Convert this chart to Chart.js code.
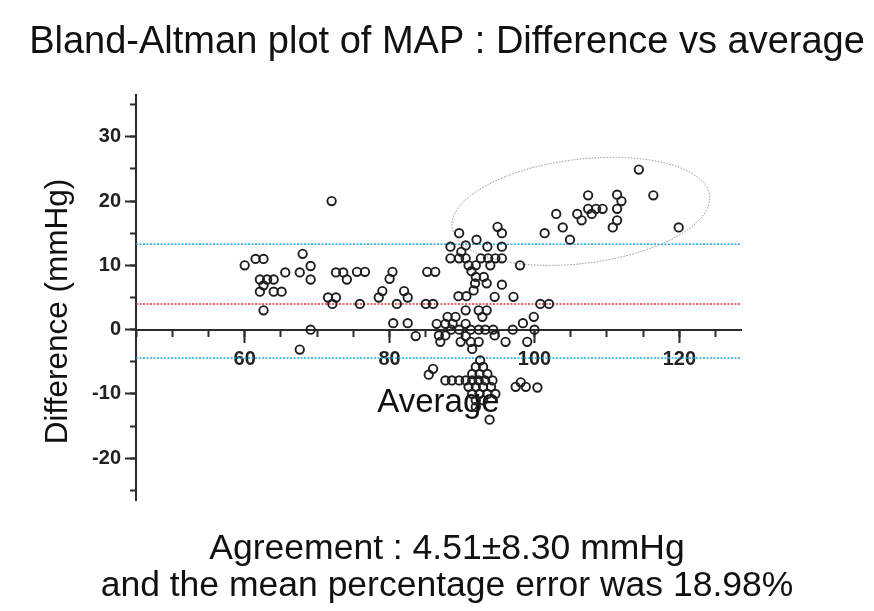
<!DOCTYPE html>
<html>
<head>
<meta charset="utf-8">
<title>Bland-Altman plot of MAP</title>
<script src="https://cdn.jsdelivr.net/npm/chart.js@4.4.1/dist/chart.umd.min.js"></script>
<style>
  html, body { margin: 0; padding: 0; background: #fff; }
  canvas { display: block; }
</style>
</head>
<body>
<canvas id="baChart" width="874" height="611"></canvas>
<script>
// Bland-Altman : moyenne (x) vs différence (y), en mmHg
const averages = [
  60.0, 61.5, 62.6, 62.1, 63.1, 64.0, 62.6, 62.1, 64.0, 65.1, 62.6, 65.6, 67.6, 68.0, 69.1,
  69.1, 67.6, 69.1, 72.0, 72.6, 73.6, 74.1, 71.5, 72.6, 72.1, 75.5, 76.6, 75.9, 80.4, 80.0,
  79.0, 78.5, 82.0, 82.5, 81.0, 80.5, 82.5, 83.6, 85.2, 86.3, 85.0, 86.0, 86.0, 85.4,
  89.6, 94.9, 95.5, 92.0, 88.4, 90.5, 93.5, 95.5, 89.9, 88.4, 89.6, 90.5, 92.6, 93.6, 94.6,
  95.5, 90.9, 91.9, 93.9, 91.3, 91.9, 93.0, 91.8, 93.4, 95.5, 91.6, 90.6, 89.5, 94.5, 97.1,
  90.5, 92.3, 93.4, 92.8, 88.0, 89.1, 86.5, 87.7, 88.7, 90.5, 88.5, 89.6, 91.2, 92.3, 93.2,
  94.3, 86.8, 87.7, 90.5, 94.5, 87.0, 89.8, 91.2, 92.3, 91.4, 92.5,
  98.0, 97.0, 98.4, 99.9, 100.0, 99.0, 96.0, 100.8, 102.0,
  91.9, 92.9, 91.4, 92.4, 93.5, 87.7, 88.6, 89.6, 90.5, 91.4, 92.3, 93.2, 94.2, 90.9, 91.9,
  92.9, 94.0, 91.4, 92.4, 93.5, 94.6, 91.9, 92.9, 91.9, 93.8, 97.4, 98.1, 98.8, 100.4,
  114.4, 116.4, 119.9, 107.4, 111.4, 112.0, 111.4, 107.4, 108.5, 109.4, 107.9, 105.9, 106.5,
  111.4, 110.8, 103.0, 103.9, 101.4, 104.9
];
const differences = [
  10.0, 11.0, 11.0, 7.8, 7.8, 7.8, 6.9, 5.9, 5.9, 5.9, 3.0, 8.9, 8.9, 11.8, 9.9,
  7.8, -3.1, 0.0, 20.0, 8.9, 8.9, 7.8, 5.0, 5.0, 4.0, 9.0, 9.0, 4.0, 9.0, 7.9,
  6.0, 5.0, 6.0, 5.0, 4.0, 1.0, 1.0, -1.0, 9.0, 9.0, 4.0, 4.0, -6.1, -7.0,
  15.0, 16.0, 15.0, 14.0, 12.9, 13.1, 12.9, 12.9, 12.1, 11.1, 11.1, 11.1, 11.1, 11.1, 11.1,
  11.1, 10.0, 10.0, 10.0, 9.1, 8.2, 8.2, 7.2, 7.2, 7.0, 6.1, 5.2, 5.2, 5.1, 5.1,
  3.0, 3.0, 3.0, 2.0, 2.0, 2.0, 0.9, 0.9, 0.9, 0.9, 0.0, 0.0, 0.0, 0.0, 0.0,
  0.0, -0.9, -0.9, -1.0, -0.9, -1.9, -1.9, -1.9, -1.9, -3.0, -4.8,
  10.0, 0.0, 1.0, 2.0, 0.0, -1.9, -1.9, 4.0, 4.0,
  -5.8, -5.8, -6.9, -6.9, -6.9, -7.9, -7.9, -7.9, -7.9, -7.9, -7.9, -7.9, -7.9, -8.9, -8.9,
  -8.9, -8.9, -10.0, -10.0, -10.0, -10.0, -11.0, -11.0, -12.0, -14.0, -8.9, -8.2, -8.9, -9.0,
  24.9, 20.9, 15.9, 20.9, 21.0, 20.0, 18.8, 18.8, 18.8, 18.8, 18.0, 18.0, 17.0,
  17.0, 15.9, 18.0, 15.9, 15.0, 14.0
];

// lignes de référence (biais et limites d'agrément)
const meanDiff = 4.0;
const upperLimit = 13.3;
const lowerLimit = -4.4;

// étendue des axes
const xRange = [45, 128.5];
const yRange = [-26.5, 36.5];

// ellipse autour du groupe en haut à droite (centre et demi-axes en unités des données)
const clusterCenter = [106.4, 18.4];
const clusterRadii = [17.9, 8.1];

const FONT = "'Liberation Sans', Arial, Helvetica, sans-serif";
const AXIS_COLOR = '#2b2b2b';
const Y_TITLE = 'Difference (mmHg)';

const points = averages.map((x, i) => ({ x: x, y: differences[i] }));

function refLine(value, color) {
  return {
    data: [{ x: xRange[0], y: value }, { x: xRange[1], y: value }],
    showLine: true,
    borderColor: color,
    borderWidth: 1.5,
    borderDash: [2, 1.5],
    pointRadius: 0,
    fill: false
  };
}

// Ellipse pointillée
const ellipsePlugin = {
  id: 'clusterEllipse',
  beforeDatasetsDraw(chart) {
    const { ctx, scales: { x, y } } = chart;
    const cx = x.getPixelForValue(clusterCenter[0]);
    const cy = y.getPixelForValue(clusterCenter[1]);
    const rx = x.getPixelForValue(clusterCenter[0] + clusterRadii[0]) - cx;
    const ry = cy - y.getPixelForValue(clusterCenter[1] + clusterRadii[1]);
    ctx.save();
    ctx.beginPath();
    ctx.ellipse(cx, cy, rx, ry, -7 * Math.PI / 180, 0, 2 * Math.PI);
    ctx.setLineDash([1.5, 1.5]);
    ctx.lineWidth = 1;
    ctx.strokeStyle = '#8c8c8c';
    ctx.stroke();
    ctx.restore();
  }
};

// Titre de l'axe Y (un peu plus bas que le centre de l'axe)
const yTitlePlugin = {
  id: 'yTitle',
  afterDraw(chart) {
    const { ctx, chartArea } = chart;
    ctx.save();
    ctx.translate(58, chartArea.top + (chartArea.bottom - chartArea.top) / 2 + 14);
    ctx.rotate(-Math.PI / 2);
    ctx.font = "31.5px " + FONT;
    ctx.fillStyle = '#111';
    ctx.textAlign = 'center';
    ctx.textBaseline = 'middle';
    ctx.fillText(Y_TITLE, 0, 0);
    ctx.restore();
  }
};

new Chart(document.getElementById('baChart'), {
  type: 'scatter',
  data: {
    datasets: [
      {
        label: 'MAP',
        data: points,
        pointRadius: 4.2,
        pointHoverRadius: 4.2,
        pointBorderWidth: 1.9,
        pointBorderColor: '#1e1e1e',
        pointBackgroundColor: 'rgba(0,0,0,0)'
      },
      refLine(upperLimit, '#1fa9e1'),
      refLine(meanDiff, '#e8322d'),
      refLine(lowerLimit, '#1fa9e1')
    ]
  },
  options: {
    responsive: false,
    animation: false,
    events: [],
    layout: { padding: { left: 20, right: 0, top: 0, bottom: 0 } },
    plugins: {
      legend: { display: false },
      tooltip: { enabled: false },
      title: {
        display: true,
        text: 'Bland-Altman plot of MAP : Difference vs average',
        color: '#111',
        font: { family: FONT, size: 38, weight: 'normal', lineHeight: '44px' },
        padding: { top: 21, bottom: 30 }
      },
      subtitle: {
        display: true,
        position: 'bottom',
        text: ['Agreement : 4.51\u00b18.30 mmHg', 'and the mean percentage error was 18.98%'],
        color: '#111',
        font: { family: FONT, size: 35.5, weight: 'normal', lineHeight: '37px' },
        padding: { top: 31, bottom: 6 }
      }
    },
    scales: {
      x: {
        type: 'linear',
        position: { y: 0 },
        min: xRange[0],
        max: xRange[1],
        ticks: {
          stepSize: 20,
          includeBounds: false,
          autoSkip: false,
          padding: 6,
          color: '#222',
          font: { family: FONT, size: 20, weight: 'bold' }
        },
        grid: { drawOnChartArea: false, tickLength: 12, tickWidth: 2, tickColor: AXIS_COLOR },
        border: { color: AXIS_COLOR, width: 2 },
        title: {
          display: true,
          text: 'Average',
          color: '#111',
          font: { family: FONT, size: 33 },
          padding: 0
        },
        afterFit: s => { s.height = 93; }
      },
      xMinor: {
        axis: 'x',
        type: 'linear',
        position: { y: 0 },
        min: xRange[0],
        max: xRange[1],
        ticks: { display: false, stepSize: 5, includeBounds: false, autoSkip: false },
        grid: { drawOnChartArea: false, tickLength: 7, tickWidth: 2, tickColor: AXIS_COLOR },
        border: { display: false }
      },
      y: {
        type: 'linear',
        position: 'left',
        min: yRange[0],
        max: yRange[1],
        ticks: {
          stepSize: 10,
          includeBounds: false,
          padding: 4,
          color: '#222',
          font: { family: FONT, size: 20, weight: 'bold' }
        },
        grid: { drawOnChartArea: false, tickLength: 11, tickWidth: 2, tickColor: AXIS_COLOR },
        border: { color: AXIS_COLOR, width: 2 },
        title: { display: false },
        afterFit: s => { s.width = 116; }
      },
      yMinor: {
        axis: 'y',
        type: 'linear',
        position: { x: xRange[0] },
        min: yRange[0],
        max: yRange[1],
        ticks: { display: false, stepSize: 5, includeBounds: false, autoSkip: false },
        grid: { drawOnChartArea: false, tickLength: 6, tickWidth: 2, tickColor: AXIS_COLOR },
        border: { display: false }
      },
      // espace vide à droite du graphique
      rightGap: {
        axis: 'y',
        type: 'linear',
        position: 'right',
        ticks: { display: false },
        grid: { display: false },
        border: { display: false },
        afterFit: s => { s.width = 133; }
      }
    }
  },
  plugins: [ellipsePlugin, yTitlePlugin]
});
</script>
</body>
</html>
